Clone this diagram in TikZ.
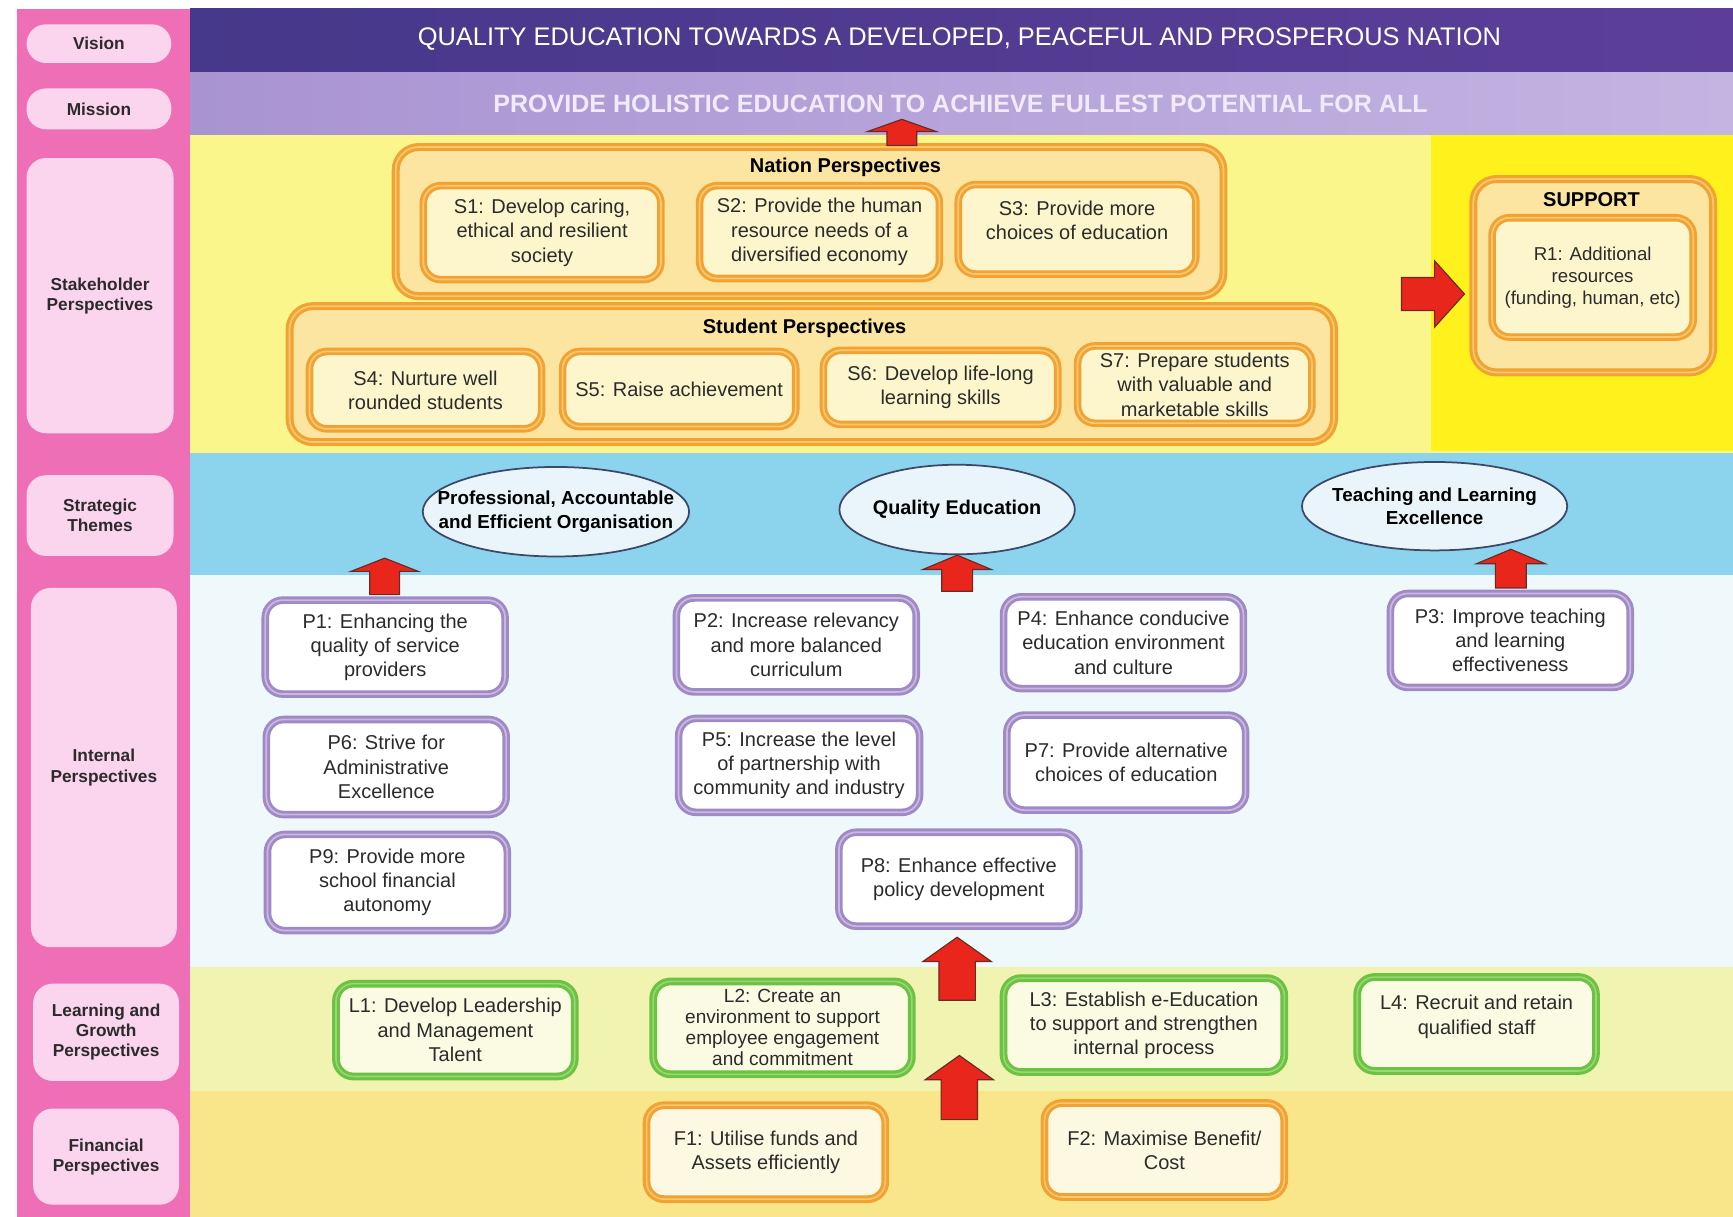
\documentclass[tikz,border=0pt]{standalone}
\usepackage{fontspec}
\setmainfont{Liberation Sans}
\usetikzlibrary{shapes.geometric,calc}
\definecolor{pinkcol}{HTML}{EE6FB6}
\definecolor{pill}{HTML}{FBD4EE}
\definecolor{visA}{HTML}{46388A}
\definecolor{visB}{HTML}{5C3E98}
\definecolor{misA}{HTML}{A994D2}
\definecolor{misB}{HTML}{C3B4E2}
\definecolor{stakey}{HTML}{FBF68C}
\definecolor{supy}{HTML}{FFF21C}
\definecolor{strblue}{HTML}{8CD3EE}
\definecolor{intbg}{HTML}{EFF8FB}
\definecolor{lrnbg}{HTML}{F0F4B0}
\definecolor{finbg}{HTML}{FAE68A}
\definecolor{orB}{HTML}{F2A232}
\definecolor{orL}{HTML}{F8C870}
\definecolor{orF}{HTML}{FBE5A0}
\definecolor{orIn}{HTML}{FDF6CC}
\definecolor{puB}{HTML}{A08AC6}
\definecolor{puL}{HTML}{C9B8E0}
\definecolor{grB}{HTML}{6CC241}
\definecolor{grL}{HTML}{9AD67A}
\definecolor{grF}{HTML}{FBFBE4}
\definecolor{finF}{HTML}{FDF8E2}
\definecolor{ellB}{HTML}{3D4868}
\definecolor{ellF}{HTML}{E9F5FA}
\definecolor{arrR}{HTML}{E8261C}
\definecolor{arrD}{HTML}{6B2A24}
\definecolor{txt}{HTML}{2B2B2B}
\definecolor{mistxt}{HTML}{F1EAFB}

\tikzset{
 body/.style={align=center, text=txt, font=\fontsize{10.3}{12.5}\selectfont, inner sep=0pt},
 pillbox/.style={fill=pill, rounded corners=10pt, align=center, text=txt, font=\fontsize{8.9}{10.4}\selectfont\bfseries, inner sep=0pt},
 obox/.style={body, draw=orB, line width=1.5pt, fill=orIn, rounded corners=9pt, double=orL, double distance=0.9pt},
 ocont/.style={draw=orB, line width=1.6pt, fill=orF, rounded corners=12pt, inner sep=0pt, double=orL, double distance=0.9pt},
 pbox/.style={body, draw=puB, line width=1.5pt, fill=white, rounded corners=9pt, double=puL, double distance=0.9pt},
 gbox/.style={body, draw=grB, line width=1.6pt, fill=grF, rounded corners=9pt, double=grL, double distance=0.8pt},
 finbox/.style={body, draw=orB, line width=1.6pt, fill=finF, rounded corners=9pt, double=orL, double distance=0.8pt},
 theme/.style={ellipse, draw=ellB, line width=0.9pt, fill=ellF, align=center, font=\fontsize{10.2}{12.4}\selectfont\bfseries, text=black, inner ysep=0pt, inner xsep=-1cm},
 ttl/.style={font=\fontsize{10.3}{12.5}\selectfont\bfseries, text=black, inner sep=0pt},
 redarrow/.style={fill=arrR, draw=arrD, line width=0.6pt, line join=miter},
}

\newcommand\bx[7]{\node[#1, minimum width={(#4-#2)*0.02cm}, minimum height={(#5-#3)*0.02cm}] (#6) at ({(#2+#4)/2},{(#3+#5)/2}) {#7};}

% up block arrow: #1 tip coord, #2 base coord, #3 head length, #4 shaft width, #5 head width
\newcommand\blockup[5]{\filldraw[redarrow] let \p1=(#1), \p2=(#2) in
 ({\x1-#4*0.01cm},\y2) -- ({\x1-#4*0.01cm},{\y1-#3*0.02cm}) -- ({\x1-#5*0.01cm},{\y1-#3*0.02cm}) -- (\x1,\y1)
 -- ({\x1+#5*0.01cm},{\y1-#3*0.02cm}) -- ({\x1+#4*0.01cm},{\y1-#3*0.02cm}) -- ({\x1+#4*0.01cm},\y2) -- cycle;}
% right block arrow: #1 tail coord, #2 tip coord
\newcommand\blockright[5]{\filldraw[redarrow] let \p1=(#1), \p2=(#2) in
 (\x1,{\y1+#4*0.01cm}) -- ({\x2-#3*0.02cm},{\y1+#4*0.01cm}) -- ({\x2-#3*0.02cm},{\y1+#5*0.01cm}) -- (\x2,\y2)
 -- ({\x2-#3*0.02cm},{\y1-#5*0.01cm}) -- ({\x2-#3*0.02cm},{\y1-#4*0.01cm}) -- (\x1,{\y1-#4*0.01cm}) -- cycle;}

\begin{document}
\begin{tikzpicture}[x=0.02cm,y=-0.02cm]
\useasboundingbox (0,0) rectangle (1568,1101);
\fill[white] (0,0) rectangle (1568,1101);

% ---------- bands ----------
\fill[pinkcol] (15,8) rectangle (173,1101);
\shade[left color=visA, right color=visB] (172,8) rectangle (1568,66);
\shade[left color=misA, right color=misB] (172,66) rectangle (1568,122);
\fill[stakey] (172,122) rectangle (1568,410);
\fill[supy] (1295,122) rectangle (1568,408);
\fill[strblue] (172,410) rectangle (1568,520);
\fill[intbg] (172,520) rectangle (1568,875);
\fill[lrnbg] (172,875) rectangle (1568,987);
\fill[finbg] (172,987) rectangle (1568,1101);

% ---------- left labels ----------
\bx{pillbox}{24}{22}{155}{57}{lVision}{Vision}
\bx{pillbox}{24}{80}{155}{117}{lMission}{Mission}
\bx{pillbox}{24}{143}{157}{392}{lStake}{Stakeholder\\Perspectives}
\bx{pillbox}{24}{430}{157}{503}{lStrat}{Strategic\\Themes}
\bx{pillbox}{28}{532}{160}{857}{lInt}{Internal\\Perspectives}
\bx{pillbox}{30}{890}{162}{978}{lLrn}{Learning and\\Growth\\Perspectives}
\bx{pillbox}{30}{1003}{162}{1090}{lFin}{Financial\\Perspectives}

% ---------- vision / mission ----------
\node[font=\fontsize{13.1}{15}\selectfont, text=white, inner sep=0pt] (vision) at (868,35) {QUALITY EDUCATION TOWARDS A DEVELOPED, PEACEFUL AND PROSPEROUS NATION};
\node[font=\fontsize{12.9}{15}\selectfont\bfseries, text=mistxt, inner sep=0pt] (mission) at (869,94) {PROVIDE HOLISTIC EDUCATION TO ACHIEVE FULLEST POTENTIAL FOR ALL};

% ---------- stakeholder ----------
\bx{ocont}{358}{133}{1107}{268}{nation}{}
\node[ttl] (nationT) at (765,151) {Nation Perspectives};
\bx{obox}{383}{168}{598}{253}{S1}{S1: Develop caring,\\ethical and resilient\\society}
\bx{obox}{633}{168}{850}{252}{S2}{S2: Provide the human\\resource needs of a\\diversified economy}
\bx{obox}{867}{167}{1082}{248}{S3}{S3: Provide more\\choices of education\\[-3pt]\mbox{}}

\bx{ocont}{262}{277}{1207}{400}{student}{}
\node[ttl] (studentT) at (728,297) {Student Perspectives};
\bx{obox}{280}{318}{490}{388}{S4}{S4: Nurture well\\rounded students}
\bx{obox}{509}{318}{720}{386}{S5}{S5: Raise achievement}
\bx{obox}{745}{317}{957}{384}{S6}{S6: Develop life-long\\learning skills}
\bx{obox}{975}{313}{1187}{383}{S7}{S7: Prepare students\\with valuable and\\marketable skills}

\bx{ocont}{1333}{162}{1550}{337}{support}{}
\node[ttl] (supportT) at (1440,181) {SUPPORT};
\bx{obox,font=\fontsize{9.6}{11.3}\selectfont}{1350}{197}{1532}{305}{R1}{R1: Additional\\resources\\(funding, human, etc)}

% ---------- strategic themes ----------
\node[theme, font=\fontsize{9.7}{12}\selectfont\bfseries, minimum width={241*0.02cm}, minimum height={81*0.02cm}] (T1) at (503,463) {Professional, Accountable\\and Efficient Organisation};
\node[theme, minimum width={213*0.02cm}, minimum height={81*0.02cm}] (T2) at (866,461) {Quality Education};
\node[theme, font=\fontsize{9.7}{12}\selectfont\bfseries, minimum width={240*0.02cm}, minimum height={80*0.02cm}] (T3) at (1298,458) {Teaching and Learning\\Excellence};

% ---------- internal ----------
\bx{pbox}{240}{543}{457}{628}{P1}{P1: Enhancing the\\quality of service\\providers}
\bx{pbox}{612}{541}{829}{626}{P2}{P2: Increase relevancy\\and more balanced\\curriculum}
\bx{pbox}{908}{540}{1125}{623}{P4}{P4: Enhance conducive\\education environment\\and culture}
\bx{pbox}{1258}{537}{1475}{622}{P3}{P3: Improve teaching\\and learning\\effectiveness}
\bx{pbox}{241}{651}{458}{737}{P6}{P6: Strive for\\Administrative\\Excellence}
\bx{pbox}{614}{650}{832}{735}{P5}{P5: Increase the level\\of partnership with\\community and industry}
\bx{pbox}{911}{647}{1127}{733}{P7}{P7: Provide alternative\\choices of education}
\bx{pbox}{242}{755}{459}{842}{P9}{P9: Provide more\\school financial\\autonomy}
\bx{pbox}{759}{753}{976}{838}{P8}{P8: Enhance effective\\policy development}

% ---------- learning ----------
\bx{gbox}{304}{890}{520}{974}{L1}{L1: Develop Leadership\\and Management\\Talent}
\bx{gbox,font=\fontsize{9.8}{10.8}\selectfont}{591}{888}{825}{972}{L2}{L2: Create an\\environment to support\\employee engagement\\and commitment}
\bx{gbox}{908}{885}{1162}{970}{L3}{L3: Establish e-Education\\to support and strengthen\\internal process}
\bx{gbox}{1228}{884}{1444}{969}{L4}{L4: Recruit and retain\\qualified staff\\[-3pt]\mbox{}}

% ---------- financial ----------
\bx{finbox}{585}{1000}{801}{1085}{F1}{F1: Utilise funds and\\Assets efficiently}
\bx{finbox}{945}{998}{1162}{1083}{F2}{F2: Maximise Benefit/\\Cost}

% ---------- block arrows ----------
\coordinate (aTopTip) at (816,108);  \coordinate (aTopBase) at (nation.north -| aTopTip);
\coordinate (aP1Tip) at (348,505);   \coordinate (aP1Base) at (348,538);
\coordinate (aQETip) at (T2.south);  \coordinate (aQEBase) at (866,535);
\coordinate (aTLTip) at (1367,497);  \coordinate (aTLBase) at (1367,532);
\coordinate (aP8Tip) at (866,848);   \coordinate (aP8Base) at (866,905);
\coordinate (aFLTip) at (868,955);   \coordinate (aFLBase) at (868,1013);
\coordinate (aRTail) at (1268,266);  \coordinate (aRTip) at (1325,266);

\blockup{aTopTip}{aTopBase}{11}{27}{62}
\blockup{aP1Tip}{aP1Base}{12}{27}{61}
\blockup{aQETip}{aQEBase}{13}{28}{62}
\blockup{aTLTip}{aTLBase}{13}{28}{62}
\blockup{aP8Tip}{aP8Base}{22}{33}{62}
\blockup{aFLTip}{aFLBase}{22}{33}{62}
\blockright{aRTail}{aRTip}{27}{30}{60}
\end{tikzpicture}
\end{document}
